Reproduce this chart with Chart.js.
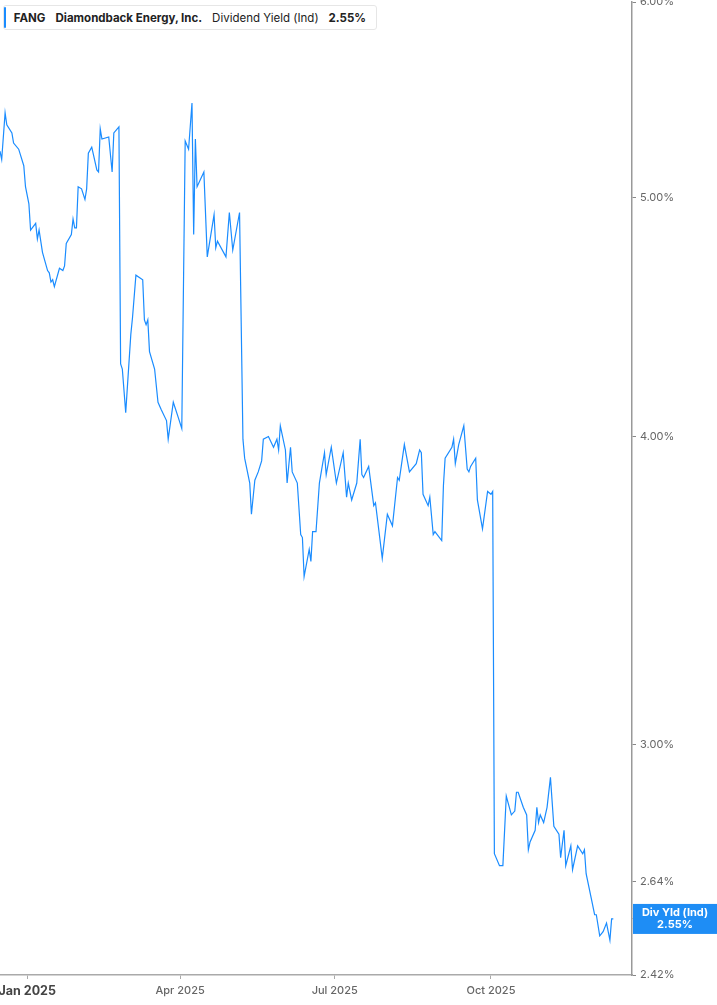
<!DOCTYPE html>
<html>
<head>
<meta charset="utf-8">
<script src="https://cdn.jsdelivr.net/npm/chart.js@4.4.1/dist/chart.umd.min.js"></script>
<style>
  html, body { margin: 0; padding: 0; background: #fff; }
  #wrap { position: relative; width: 717px; height: 1005px; }
  #legend {
    position: absolute; left: 3px; top: 5px; height: 25px; width: 374px;
    border: 1px solid #e6e6e6; border-radius: 3px; background: #fff;
    font-family: Inter, "Noto Sans", sans-serif; font-size: 11.5px; color: #222;
    display: flex; align-items: center; box-sizing: border-box;
  }
  #legend .bar { width: 3px; height: 21px; background: #1a8cff; border-radius: 2px; margin-right: 8px; }
  #legend span { margin-right: 10px; white-space: nowrap; }
  #legend b { font-weight: 700; }
</style>
</head>
<body>
<div id="wrap">
  <canvas id="chart" width="717" height="1005"></canvas>
  <div id="legend">
    <div class="bar"></div>
    <span><b>FANG</b></span>
    <span><b>Diamondback Energy, Inc.</b></span>
    <span>Dividend Yield (Ind)</span>
    <span><b>2.55%</b></span>
  </div>
</div>
<script>
// days since 1 Jan 2025 (trading days)
const days = [
  -16, -15, -13, -12, -9, -8, -5, -2, -1, 1,
  2, 5, 6, 7, 9, 12, 13, 14, 15, 16,
  19, 21, 22, 23, 26, 27, 28, 29, 30, 32,
  34, 35, 36, 38, 41, 42, 43, 44, 48, 50,
  51, 54, 55, 56, 58, 61, 62, 64, 68, 69,
  70, 71, 72, 75, 77, 79, 82, 83, 86, 89,
  91, 93, 95, 97, 98, 99, 100, 104, 106, 110,
  111, 112, 117, 119, 121, 125, 127, 128, 131, 132,
  134, 136, 138, 139, 142, 145, 147, 148, 149, 152,
  153, 155, 156, 159, 161, 162, 163, 166, 167, 168,
  170, 172, 175, 176, 179, 182, 186, 188, 189, 191,
  194, 196, 197, 198, 201, 204, 205, 209, 212, 215,
  218, 219, 222, 225, 229, 231, 232, 233, 236, 237,
  239, 240, 244, 245, 246, 250, 251, 252, 254, 257,
  259, 260, 261, 264, 265, 268, 271, 273, 274, 275,
  278, 280, 282, 285, 287, 288, 289, 292, 294, 295,
  296, 299, 300, 301, 302, 304, 306, 308, 310, 313,
  314, 316, 317, 320, 321, 324, 327, 328, 329, 332,
  334, 335, 337, 339, 341, 343, 344, 345
];

// dividend yield (%)
const divYield = [
  5.22, 5.18, 5.41, 5.35, 5.31, 5.26, 5.23, 5.15, 5.05, 4.97,
  4.85, 4.88, 4.81, 4.85, 4.75, 4.67, 4.66, 4.62, 4.63, 4.60,
  4.68, 4.67, 4.69, 4.79, 4.83, 4.90, 4.86, 4.86, 5.05, 5.04,
  4.99, 5.04, 5.21, 5.24, 5.13, 5.12, 5.33, 5.28, 5.29, 5.12,
  5.31, 5.34, 4.28, 4.26, 4.09, 4.40, 4.47, 4.65, 4.63, 4.46,
  4.44, 4.46, 4.33, 4.26, 4.13, 4.10, 4.06, 3.99, 4.13, 4.07,
  4.03, 5.27, 5.23, 5.46, 4.83, 5.28, 5.05, 5.12, 4.73, 4.92,
  4.77, 4.80, 4.73, 4.93, 4.76, 4.93, 3.99, 3.92, 3.83, 3.72,
  3.84, 3.87, 3.91, 3.99, 4.00, 3.96, 3.99, 3.95, 4.04, 3.95,
  3.83, 3.96, 3.87, 3.83, 3.65, 3.64, 3.51, 3.60, 3.56, 3.66,
  3.66, 3.83, 3.94, 3.86, 3.96, 3.83, 3.94, 3.78, 3.83, 3.77,
  3.83, 3.99, 3.86, 3.85, 3.89, 3.75, 3.76, 3.57, 3.72, 3.68,
  3.85, 3.84, 3.97, 3.87, 3.90, 3.95, 3.94, 3.79, 3.75, 3.78,
  3.65, 3.66, 3.63, 3.82, 3.92, 3.96, 3.99, 3.90, 3.97, 4.04,
  3.88, 3.87, 3.89, 3.92, 3.77, 3.67, 3.80, 3.79, 3.80, 2.71,
  2.68, 2.68, 2.86, 2.81, 2.82, 2.87, 2.87, 2.83, 2.81, 2.72,
  2.74, 2.77, 2.83, 2.79, 2.81, 2.79, 2.83, 2.91, 2.78, 2.76,
  2.70, 2.77, 2.68, 2.73, 2.67, 2.73, 2.71, 2.72, 2.66, 2.60,
  2.56, 2.56, 2.51, 2.52, 2.54, 2.50, 2.55, 2.55
];

const xTickDays = [0, 90, 181, 273];
const xTickLabels = ['Jan 2025', 'Apr 2025', 'Jul 2025', 'Oct 2025'];
const yTickValues = [2.42, 2.55, 2.64, 3, 4, 5, 6];
const yMin = 2.42;
const yMax = 6;

const lineColor = '#1a8cff';
const lastValue = divYield[divYield.length - 1];

// blue value tag on the right axis
const badgePlugin = {
    id: 'badge',
    afterDraw(chart) {
        const ctx = chart.ctx;
        const y = chart.scales.y.getPixelForValue(lastValue);
        const left = chart.chartArea.right + 1;
        ctx.save();
        ctx.fillStyle = '#1e8df5';
        ctx.fillRect(left, y - 15, chart.width - left, 30);
        ctx.fillStyle = '#ffffff';
        ctx.font = 'bold 11px Inter, "Noto Sans", sans-serif';
        ctx.textAlign = 'center';
        ctx.textBaseline = 'middle';
        const cx = left + (chart.width - left) / 2;
        ctx.fillText('Div Yld (Ind)', cx, y - 6);
        ctx.fillText(lastValue.toFixed(2) + '%', cx, y + 6);
        ctx.restore();
    }
};

const points = days.map((d, i) => ({x: d, y: divYield[i]}));

new Chart(document.getElementById('chart'), {
    type: 'line',
    data: {
        datasets: [{
            data: points,
            borderColor: lineColor,
            borderWidth: 1.2,
            pointRadius: 0,
            tension: 0,
            fill: false
        }]
    },
    options: {
        responsive: false,
        animation: false,
        devicePixelRatio: 1,
        layout: {padding: {top: 2, left: 0, right: 0, bottom: 0}},
        plugins: {
            legend: {display: false},
            tooltip: {enabled: false}
        },
        scales: {
            x: {
                type: 'linear',
                min: -16,
                max: 356,
                afterBuildTicks: (scale) => {
                    scale.ticks = xTickDays.map(v => ({value: v}));
                },
                afterFit: (scale) => {
                    scale.height = 30;
                    scale.paddingLeft = 0;
                    scale.paddingRight = 0;
                },
                border: {display: true, color: '#aaaaaa', width: 1.5},
                grid: {drawOnChartArea: false, drawTicks: true, tickLength: 4, color: '#aaaaaa'},
                ticks: {
                    padding: 5,
                    maxRotation: 0,
                    autoSkip: false,
                    callback: (v) => xTickLabels[xTickDays.indexOf(v)],
                    color: (c) => c.index === 0 ? '#444444' : '#666666',
                    font: (c) => c.index === 0
                        ? {family: 'Inter', size: 12.5, weight: 'bold'}
                        : {family: 'Inter', size: 11, weight: '500'}
                }
            },
            y: {
                type: 'logarithmic',
                position: 'right',
                min: yMin,
                max: yMax,
                bounds: 'data',
                afterBuildTicks: (scale) => {
                    // log scale rounds min down to 2.4, keep the real range
                    scale.min = yMin;
                    scale.max = yMax;
                    scale.ticks = yTickValues.map(v => ({value: v}));
                },
                afterFit: (scale) => {
                    scale.width = 85;
                    scale.paddingTop = 0;
                    scale.paddingBottom = 0;
                },
                border: {display: true, color: '#999999', width: 1.5},
                grid: {drawOnChartArea: false, drawTicks: true, tickLength: 4, color: '#888888'},
                ticks: {
                    padding: 4,
                    autoSkip: false,
                    callback: (v) => Number(v).toFixed(2) + '%',
                    color: '#666666',
                    font: {family: 'Inter', size: 11}
                }
            }
        }
    },
    plugins: [badgePlugin]
});
</script>
</body>
</html>
